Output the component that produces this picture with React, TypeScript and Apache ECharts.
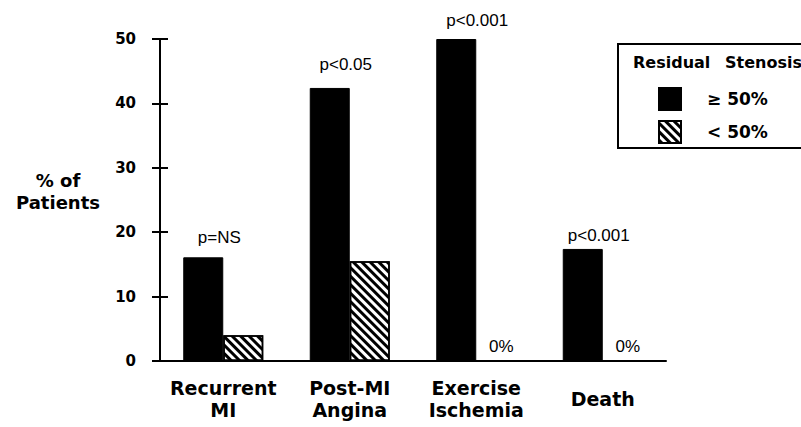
import React, { useEffect, useRef } from "react";
import * as echarts from "echarts";

const categories = ["Recurrent\nMI", "Post-MI\nAngina", "Exercise\nIschemia", "Death"];
const stenosisHigh = [16.1, 42.4, 50, 17.4];
const stenosisLow = [4, 15.5, 0, 0];
const pValues = ["p=NS", "p<0.05", "p<0.001", "p<0.001"];
const seriesNames = ["≥ 50%", "< 50%"];
const legendTitle = ["Residual", "Stenosis"];
const yAxisTitle = "% of\nPatients";

const BOLD = "DejaVu Sans";
const REG = "Liberation Sans";

export default function App() {
  const ref = useRef<HTMLDivElement>(null);
  useEffect(() => {
    if (!ref.current) return;
    const chart = echarts.init(ref.current, undefined, { renderer: "svg" });
    const pDist = [11, 15, 10, 5];
    const pOff = [16, 16, 21, 16];
    const option: any = {
      animation: false,
      backgroundColor: "#fff",
      grid: { left: 160, top: 39, width: 506, height: 322 },
      xAxis: {
        type: "category",
        data: categories.map((c) =>
          c.indexOf("\n") < 0 ? { value: c, textStyle: { lineHeight: 44 } } : c
        ),
        axisLine: { lineStyle: { color: "#000", width: 2 } },
        axisTick: { show: false },
        axisLabel: {
          margin: 16,
          color: "#000",
          fontFamily: BOLD,
          fontWeight: "bold",
          fontSize: 19,
          lineHeight: 22,
          interval: 0,
        },
      },
      yAxis: [
        {
          type: "value",
          position: "left",
          min: 0,
          max: 50,
          interval: 10,
          axisLine: { show: true, lineStyle: { color: "#000", width: 2 } },
          axisTick: { show: true, length: 8, lineStyle: { color: "#000", width: 2 } },
          splitLine: { show: false },
          axisLabel: {
            margin: 24,
            color: "#000",
            fontFamily: BOLD,
            fontWeight: "bold",
            fontSize: 15,
          },
        },
        {
          type: "value",
          position: "left",
          min: 0,
          max: 50,
          interval: 10,
          axisLine: { show: false },
          axisTick: { show: true, inside: true, length: 8, lineStyle: { color: "#000", width: 2 } },
          splitLine: { show: false },
          axisLabel: { show: false },
        },
      ],
      legend: {
        orient: "vertical",
        left: 653,
        top: 82,
        itemWidth: 22,
        itemHeight: 22,
        itemGap: 9,
        icon: "rect",
        data: seriesNames,
        textStyle: {
          color: "#000",
          fontFamily: BOLD,
          fontWeight: "bold",
          fontSize: 17,
          padding: [0, 0, 0, 21],
        },
      },
      graphic: [
        {
          type: "rect",
          shape: { x: 618, y: 44, width: 240, height: 104 },
          style: { fill: "none", stroke: "#000", lineWidth: 2 },
        },
        {
          type: "text",
          x: 633,
          y: 62,
          style: {
            text: legendTitle[0],
            fontFamily: BOLD,
            fontWeight: "bold",
            fontSize: 16,
            fill: "#000",
            verticalAlign: "middle",
          },
        },
        {
          type: "text",
          x: 725,
          y: 62,
          style: {
            text: legendTitle[1],
            fontFamily: BOLD,
            fontWeight: "bold",
            fontSize: 16,
            fill: "#000",
            verticalAlign: "middle",
          },
        },
        {
          type: "text",
          x: 58,
          y: 191,
          style: {
            text: yAxisTitle,
            fontFamily: BOLD,
            fontWeight: "bold",
            fontSize: 18,
            lineHeight: 22,
            fill: "#000",
            align: "center",
            verticalAlign: "middle",
          },
        },
      ],
      series: [
        {
          name: seriesNames[0],
          type: "bar",
          barWidth: 40,
          barGap: "0%",
          itemStyle: { color: "#000", borderColor: "#000", borderWidth: 1 },
          data: stenosisHigh.map((v, i) => ({
            value: v,
            label: {
              show: true,
              position: "top",
              distance: pDist[i],
              offset: [pOff[i], 0],
              formatter: pValues[i],
              color: "#000",
              fontFamily: REG,
              fontSize: 17,
            },
          })),
        },
        {
          name: seriesNames[1],
          type: "bar",
          barWidth: 40,
          itemStyle: {
            color: "#fff",
            borderColor: "#000",
            borderWidth: 1.5,
            decal: {
              symbol: "rect",
              symbolSize: 1,
              color: "#000",
              dashArrayX: [1, 0],
              dashArrayY: [2.5, 2.5],
              rotation: Math.PI / 4,
            },
          },
          data: stenosisLow.map((v) => ({
            value: v,
            label: {
              show: v === 0,
              position: "top",
              distance: 5,
              offset: [5, 0],
              formatter: "0%",
              color: "#000",
              fontFamily: REG,
              fontSize: 17,
            },
          })),
        },
      ],
    };
    chart.setOption(option);
    return () => chart.dispose();
  }, []);
  return (
    <div
      ref={ref}
      style={{ position: "absolute", left: 0, top: 0, width: 801, height: 427, background: "#fff" }}
    />
  );
}
